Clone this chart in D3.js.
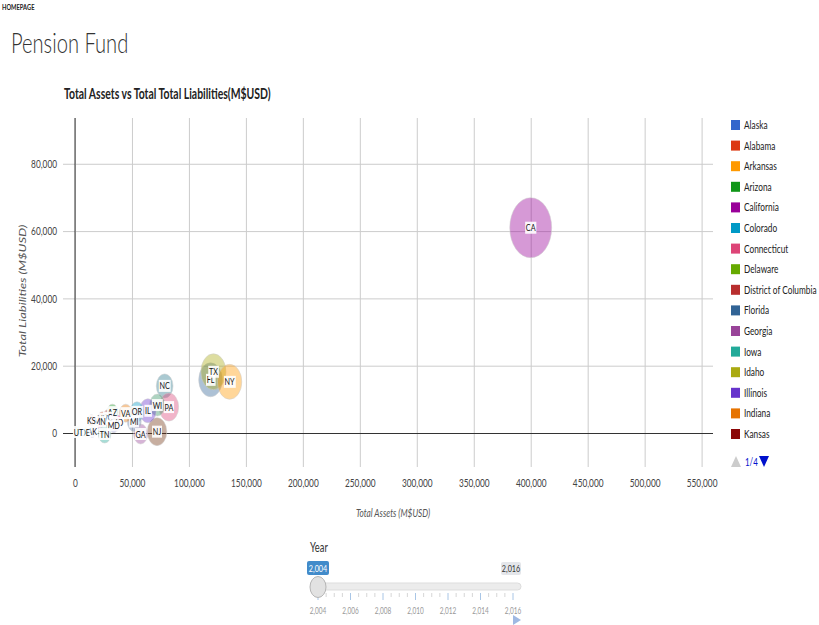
<!doctype html>
<html lang="en">
<head>
<meta charset="utf-8">
<title>Pension Fund</title>
<script src="https://cdnjs.cloudflare.com/ajax/libs/d3/7.8.5/d3.min.js"></script>
<style>
html, body { margin: 0; padding: 0; background: #fff; }
svg { display: block; font-family: Lato, "Open Sans", sans-serif; }
</style>
</head>
<body>
<svg id="chart" width="819" height="625"></svg>
<script>
// the whole page reads horizontally squeezed, so text gets the same squeeze
var SX = 0.72;

var legendStates = ["Alaska", "Alabama", "Arkansas", "Arizona", "California", "Colorado",
  "Connecticut", "Delaware", "District of Columbia", "Florida", "Georgia", "Iowa",
  "Idaho", "Illinois", "Indiana", "Kansas"];
var palette = ["#3366cc", "#dc3912", "#ff9900", "#109618", "#990099", "#0099c6",
  "#dd4477", "#66aa00", "#b82e2e", "#316395", "#994499", "#22aa99",
  "#aaaa11", "#6633cc", "#e67300", "#8b0707"];

// bubbles for 2004: code, total assets, total liabilities, bubble size, colour
var codes       = ["CA", "FL", "TX", "NY", "NC", "PA", "NJ", "WI", "IL", "OR", "GA", "MI", "VA", "MO", "AZ", "SC", "NV", "MN", "MD", "KS", "TN", "AK", "DE", "UT"];
var assets      = [400000, 119000, 121500, 135700, 78700, 82400, 72000, 72300, 64000, 54400, 57600, 52000, 44500, 37000, 32800, 29000, 24000, 21700, 34000, 14400, 26000, 15000, 8800, 3000];
var liabilities = [61000, 15800, 18200, 15200, 14000, 7700, 400, 8300, 6600, 6300, -300, 3400, 5900, 3000, 6200, 4500, 4200, 3400, 2200, 3600, -300, 400, 300, 300];
var sizes       = [30, 17, 18, 17.5, 12, 14, 14, 11, 12, 10, 10, 10, 9, 8, 8, 8, 7, 7, 7, 6, 9, 6, 5, 5];
var colors      = ["#990099", "#316395", "#aaaa11", "#ff9900", "#2a778d", "#dd4477", "#743411", "#329262", "#6633cc", "#0099c6", "#994499", "#5574a6", "#e67300", "#f4359e", "#109618", "#b82e2e", "#dc3912", "#b91383", "#3b3eac", "#8b0707", "#22aa99", "#3366cc", "#66aa00", "#22aa99"];

var xTicks = d3.range(0, 550001, 50000);
var yTicks = [0, 20000, 40000, 60000, 80000];
var years = d3.range(2004, 2017, 2);

var svg = d3.select("#chart");
var fmt = d3.format(",");

function squeezed(parent, x, y, txt) {
  return parent.append("text")
    .attr("transform", "translate(" + x + "," + y + ") scale(" + SX + ",1)")
    .text(txt);
}

// header
squeezed(svg, 2, 10, "HOMEPAGE").attr("font-size", 8).attr("font-weight", "bold").attr("fill", "#222");
squeezed(svg, 11, 53, "Pension Fund").attr("font-size", 28).attr("font-weight", 300).attr("fill", "#333");
squeezed(svg, 64, 99, "Total Assets vs Total Total Liabilities(M$USD)")
  .attr("font-size", 14.5).attr("font-weight", "bold").attr("fill", "#222");

// plot area
var plotL = 75, plotR = 713, plotT = 118, plotB = 467;
var x = d3.scaleLinear().domain([0, 560000]).range([plotL, plotR]);
var y = d3.scaleLinear().domain([-10100, 93600]).range([plotB, plotT]);
var r = d3.scaleLinear().domain([5, 30]).range([5, 30]);

// gridlines
svg.append("g")
  .attr("transform", "translate(0," + plotB + ")")
  .call(d3.axisBottom(x).tickValues(xTicks).tickSize(-(plotB - plotT)).tickFormat(""))
  .call(function(g) {
    g.select(".domain").remove();
    g.selectAll("line").attr("stroke", "#cccccc");
  });
svg.append("g")
  .attr("transform", "translate(" + plotR + ",0)")
  .call(d3.axisLeft(y).tickValues(yTicks).tickSize(plotR - 63).tickFormat(""))
  .call(function(g) {
    g.select(".domain").remove();
    g.selectAll("line").attr("stroke", function(d) { return d === 0 ? "#333" : "#cccccc"; });
  });
svg.append("line")
  .attr("x1", plotL).attr("x2", plotL).attr("y1", plotT).attr("y2", plotB)
  .attr("stroke", "#333");

// tick labels
svg.append("g")
  .attr("transform", "translate(0,476)")
  .call(d3.axisBottom(x).tickValues(xTicks).tickSize(0).tickFormat(fmt))
  .call(function(g) {
    g.select(".domain").remove();
    g.selectAll("text").attr("font-size", 11.5).attr("fill", "#444")
      .attr("font-family", "Lato, sans-serif").attr("transform", "scale(" + SX + ",1)");
  });
svg.append("g")
  .attr("transform", "translate(57,0)")
  .call(d3.axisLeft(y).tickValues(yTicks).tickSize(0).tickPadding(0).tickFormat(fmt))
  .call(function(g) {
    g.select(".domain").remove();
    g.selectAll("text").attr("font-size", 11.5).attr("fill", "#444")
      .attr("font-family", "Lato, sans-serif").attr("transform", "scale(" + SX + ",1)");
  });

// axis titles
squeezed(svg, 393, 517, "Total Assets (M$USD)")
  .attr("text-anchor", "middle").attr("font-size", 11.5).attr("font-style", "italic").attr("fill", "#555");
svg.append("text")
  .attr("transform", "translate(26,291) scale(" + SX + ",1) rotate(-90)")
  .attr("text-anchor", "middle").attr("font-size", 13).attr("font-style", "italic")
  .attr("fill", "#555").text("Total Liabilities (M$USD)");

// bubbles
var bubbles = d3.range(codes.length).map(function(i) {
  return { code: codes[i], a: assets[i], l: liabilities[i], s: sizes[i], c: colors[i] };
});
var plot = svg.append("g");
plot.selectAll("ellipse")
  .data(bubbles)
  .enter()
  .append("ellipse")
  .attr("cx", function(d) { return x(d.a); })
  .attr("cy", function(d) { return y(d.l); })
  .attr("rx", function(d) { return r(d.s) * SX * 0.97; })
  .attr("ry", function(d) { return r(d.s); })
  .attr("fill", function(d) { return d.c; })
  .attr("fill-opacity", 0.4)
  .attr("stroke", "#cccccc")
  .attr("stroke-width", 0.5);

// state codes sit on small white boxes
var labels = plot.selectAll("g.lbl")
  .data(bubbles)
  .enter()
  .append("g")
  .attr("class", "lbl")
  .attr("transform", function(d) {
    return "translate(" + x(d.a) + "," + y(d.l) + ") scale(" + SX + ",1)";
  });
labels.append("rect").attr("fill", "#fff").attr("fill-opacity", 0.9);
labels.append("text")
  .attr("y", 3.5)
  .attr("text-anchor", "middle")
  .attr("font-size", 10)
  .attr("fill", "#111")
  .text(function(d) { return d.code; });
labels.each(function() {
  var g = d3.select(this);
  var b = g.select("text").node().getBBox();
  g.select("rect").attr("x", b.x - 1).attr("y", -6).attr("width", b.width + 2).attr("height", 12);
});

// legend
var legend = svg.append("g");
legendStates.forEach(function(name, i) {
  var ly = 120 + i * 20.6;
  legend.append("rect").attr("x", 731).attr("y", ly).attr("width", 9).attr("height", 10)
    .attr("fill", palette[i]);
  squeezed(legend, 744, ly + 9, name).attr("font-size", 11.5).attr("fill", "#222");
});
legend.append("path").attr("d", "M731,467 L736,456 L741,467 Z").attr("fill", "#cccccc");
squeezed(legend, 745, 466, "1/4").attr("font-size", 11).attr("fill", "#0011cc");
legend.append("path").attr("d", "M759,456 L769,456 L764,467 Z").attr("fill", "#0011cc");

// year slider
var yr = d3.scaleLinear().domain([2004, 2016]).range([318, 513]);
var slider = svg.append("g");
squeezed(slider, 310, 552, "Year").attr("font-size", 13).attr("fill", "#333");
slider.append("rect").attr("x", 311).attr("y", 583).attr("width", 210).attr("height", 7)
  .attr("rx", 3.5).attr("fill", "#ececec").attr("stroke", "#dddddd");
d3.range(2004, 2016.01, 0.5).forEach(function(v) {
  var major = years.indexOf(v) >= 0;
  slider.append("line").attr("x1", yr(v)).attr("x2", yr(v))
    .attr("y1", 593).attr("y2", major ? 600 : 597)
    .attr("stroke", major ? "#a9c6e6" : "#d6d6d6");
});
years.forEach(function(v) {
  squeezed(slider, yr(v), 614, fmt(v)).attr("text-anchor", "middle").attr("font-size", 9).attr("fill", "#999");
});
slider.append("ellipse").attr("cx", yr(2004)).attr("cy", 587).attr("rx", 8).attr("ry", 10.5)
  .attr("fill", "#e2e2e2").attr("stroke", "#b5b5b5");
slider.append("rect").attr("x", 307).attr("y", 561).attr("width", 22).attr("height", 14)
  .attr("rx", 2).attr("fill", "#428bca");
squeezed(slider, 318, 571.5, fmt(2004)).attr("text-anchor", "middle").attr("font-size", 10).attr("fill", "#fff");
slider.append("rect").attr("x", 501).attr("y", 562).attr("width", 20).attr("height", 13)
  .attr("rx", 2).attr("fill", "#e4e6ea");
squeezed(slider, 511, 571.5, fmt(2016)).attr("text-anchor", "middle").attr("font-size", 10).attr("fill", "#333");
slider.append("path").attr("d", "M513,615 L521,620 L513,625 Z").attr("fill", "#9fb9e3");
</script>
</body>
</html>
